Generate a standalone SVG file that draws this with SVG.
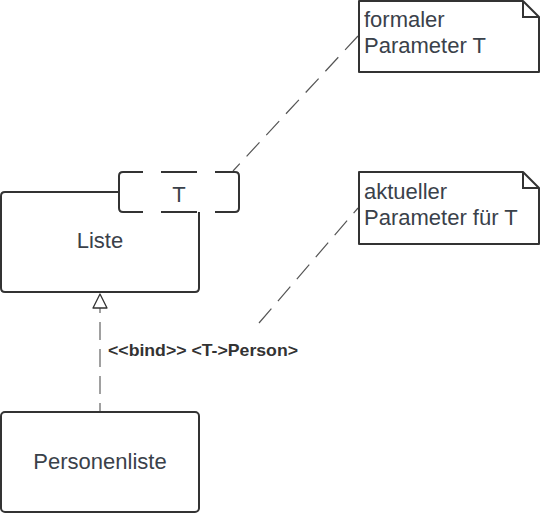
<svg xmlns="http://www.w3.org/2000/svg" width="540" height="514" viewBox="0 0 540 514">
<style>
.box{fill:#fff;stroke:#333;stroke-width:2;stroke-linejoin:round}
.nobg{fill:none;stroke:#333;stroke-width:2;stroke-linecap:butt}
.t{font-family:"Liberation Sans",Arial,sans-serif;fill:#3a414a;font-size:22px}
.conn{fill:none;stroke:#555;stroke-width:1.2;stroke-dasharray:19 10}
.dep{fill:none;stroke:#a0a0a0;stroke-width:2;stroke-dasharray:18 9;stroke-dashoffset:9}
</style>
<rect width="540" height="514" fill="#fff"/>
<g id="connectors">
<path class="conn" d="M358,36 L233,171"/>
<path class="conn" d="M259,323 L358,208"/>
<path class="dep" d="M100,412 V308"/>
<path d="M100,294 L107,308 H93 Z" fill="#fff" stroke="#333" stroke-width="1.3" stroke-linejoin="round"/>
<text class="t" x="108" y="356" style="font-weight:bold;font-size:17px;fill:#333" textLength="190" lengthAdjust="spacingAndGlyphs">&lt;&lt;bind&gt;&gt; &lt;T-&gt;Person&gt;</text>
</g>
<g id="liste">
<path class="box" d="M119,192 H5 Q1,192 1,196 V288 Q1,292 5,292 H195 Q199,292 199,288 V212"/>
<text class="t" x="100" y="248" text-anchor="middle">Liste</text>
</g>
<g id="param-T">
<path class="nobg" d="M143,172 H123 Q119,172 119,176 V208 Q119,212 123,212 H143 M215,172 H235 Q239,172 239,176 V208 Q239,212 235,212 H215 M161,172 H197 M161,212 H197"/>
<text class="t" x="179" y="202" text-anchor="middle">T</text>
</g>
<g id="personenliste">
<rect class="box" x="1" y="412" width="198" height="100" rx="4"/>
<text class="t" x="100" y="469" text-anchor="middle">Personenliste</text>
</g>
<g id="note-formal">
<path class="box" d="M359,1 H523 L539,17 V72 H359 Z"/>
<path class="nobg" d="M523,1 V17 H539"/>
<text class="t" x="364" y="27">formaler</text>
<text class="t" x="364" y="53">Parameter T</text>
</g>
<g id="note-aktuell">
<path class="box" d="M359,172 H523 L539,188 V244 H359 Z"/>
<path class="nobg" d="M523,172 V188 H539"/>
<text class="t" x="364" y="199">aktueller</text>
<text class="t" x="364" y="225">Parameter für T</text>
</g>
</svg>
